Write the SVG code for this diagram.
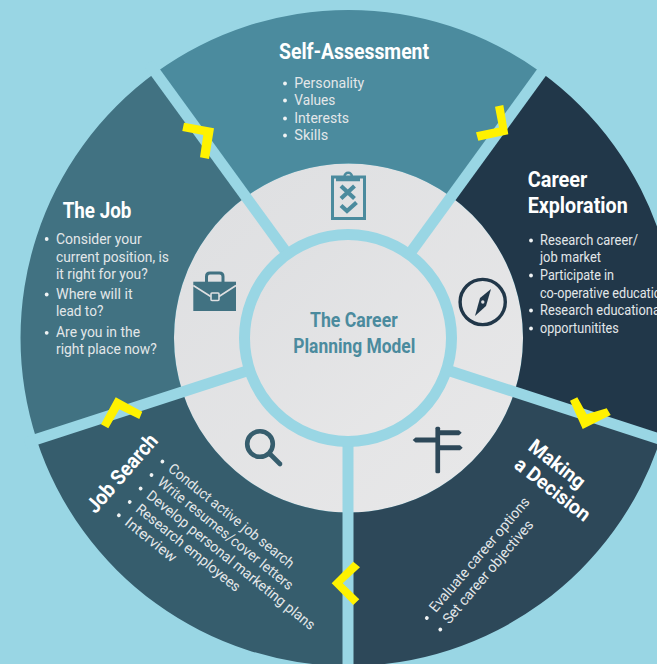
<svg xmlns="http://www.w3.org/2000/svg" width="657" height="664" viewBox="0 0 657 664">
<defs>
<linearGradient id="hubfill" x1="0.15" y1="0.1" x2="0.85" y2="0.9"><stop offset="0" stop-color="#dfe0e2"/><stop offset="1" stop-color="#e7e7e8"/></linearGradient>
</defs>
<style>
text{font-family:Roboto,"Liberation Sans",sans-serif}
.t{font-weight:700;fill:#fff;font-size:22px}
.b{font-weight:400;fill:#e3e7e9;font-size:14.5px}
.d{fill:#f0f3f4}
.c{font-weight:700;fill:#4b8b9e;font-size:19.5px}
.s{fill:none;stroke:#99d6e4;stroke-width:11}
.y{fill:#fff200}
</style>
<rect width="657" height="664" fill="#99d6e4"/>
<circle id="hub-disc" cx="348.5" cy="338" r="174.5" fill="url(#hubfill)"/>

<g id="self-assessment">
<path d="M245.9 196.8L155.7 72.6A328 328 0 0 1 541.3 72.6L451.1 196.8A174.5 174.5 0 0 0 245.9 196.8Z" fill="#4b8b9e"/>
<text class="t" x="279" y="59" textLength="150" lengthAdjust="spacingAndGlyphs">Self-Assessment</text>
<circle class="d" cx="285" cy="83.5" r="1.9"/><text class="b" x="294.3" y="88" textLength="70" lengthAdjust="spacingAndGlyphs">Personality</text>
<circle class="d" cx="285" cy="100.5" r="1.9"/><text class="b" x="294.3" y="105" textLength="41" lengthAdjust="spacingAndGlyphs">Values</text>
<circle class="d" cx="285" cy="118.5" r="1.9"/><text class="b" x="294.3" y="123" textLength="54.7" lengthAdjust="spacingAndGlyphs">Interests</text>
<circle class="d" cx="285" cy="135.5" r="1.9"/><text class="b" x="294.3" y="140" textLength="34" lengthAdjust="spacingAndGlyphs">Skills</text>
<g fill="none" stroke="#4b8b9e">
<rect x="332.5" y="177" width="32" height="41.5" stroke-width="3"/>
<path d="M336 179.5H360" stroke-width="3.5"/>
<path d="M344.5 176.5a3.7 3.7 0 0 1 7.4 0" stroke-width="2.5"/>
<path d="M341 186l13.5 12.5M354.5 186l-13.5 12.5" stroke-width="4.2"/>
<path d="M341 205.5l6 5.5l9.5-8.5" stroke-width="4.2"/>
</g>
</g>

<g id="career-exploration">
<path d="M451.1 196.8L541.3 72.6A328 328 0 0 1 660.4 439.4L514.5 391.9A174.5 174.5 0 0 0 451.1 196.8Z" fill="#213749"/>
<text class="t" x="527.7" y="187" textLength="59.7" lengthAdjust="spacingAndGlyphs">Career</text>
<text class="t" x="527.7" y="213" textLength="100" lengthAdjust="spacingAndGlyphs">Exploration</text>
<circle class="d" cx="531" cy="240.5" r="1.9"/><text class="b" x="540" y="245" textLength="98" lengthAdjust="spacingAndGlyphs">Research career/</text>
<text class="b" x="540" y="262" textLength="61" lengthAdjust="spacingAndGlyphs">job market</text>
<circle class="d" cx="531" cy="275.5" r="1.9"/><text class="b" x="540" y="280" textLength="74" lengthAdjust="spacingAndGlyphs">Participate in</text>
<text class="b" x="540" y="298" textLength="128" lengthAdjust="spacingAndGlyphs">co-operative education</text>
<circle class="d" cx="531" cy="310.5" r="1.9"/><text class="b" x="540" y="315" textLength="123" lengthAdjust="spacingAndGlyphs">Research educational</text>
<circle class="d" cx="531" cy="328.5" r="1.9"/><text class="b" x="540" y="333" textLength="78.7" lengthAdjust="spacingAndGlyphs">opportunitites</text>
<circle cx="482.7" cy="302" r="22.6" fill="none" stroke="#213749" stroke-width="3.4"/>
<path d="M491 289L486 306L475 316L480 298Z" fill="#213749"/>
<circle cx="482.8" cy="302" r="1.7" fill="#dfe0e2"/>
</g>

<g id="making-a-decision">
<path d="M514.5 391.9L660.4 439.4A328 328 0 0 1 348.5 666L348.5 512.5A174.5 174.5 0 0 0 514.5 391.9Z" fill="#2d4859"/>
<g transform="translate(527,449) rotate(38)">
<text class="t" style="font-size:20px" x="0" y="0" textLength="66" lengthAdjust="spacingAndGlyphs">Making</text>
</g>
<g transform="translate(513,467) rotate(38)">
<text class="t" style="font-size:20px" x="0" y="0" textLength="90" lengthAdjust="spacingAndGlyphs">a Decision</text>
</g>
<g transform="translate(435.7,613.3) rotate(-49.5)">
<circle class="d" cx="-9.3" cy="-3.7" r="1.9"/><text class="b" x="0" y="0" textLength="146" lengthAdjust="spacingAndGlyphs">Evaluate career options</text>
<circle class="d" cx="-9.3" cy="14" r="1.9"/><text class="b" x="0" y="17.7" textLength="131" lengthAdjust="spacingAndGlyphs">Set career objectives</text>
</g>
<g fill="#2d4859">
<rect x="435.4" y="426.7" width="4.7" height="46.6" rx="1.5"/>
<path d="M437 430.2H459L461.7 432.7L459 435.2H437Z"/>
<path d="M438 437.6H415.5L412.7 440L415.5 442.4H438Z"/>
<path d="M437 445.2H460L462.7 447.7L460 450.2H437Z"/>
</g>
</g>

<g id="job-search">
<path d="M348.5 512.5L348.5 666A328 328 0 0 1 36.6 439.4L182.5 391.9A174.5 174.5 0 0 0 348.5 512.5Z" fill="#365d6d"/>
<g transform="translate(95.5,514.5) rotate(-49)">
<text class="t" style="font-size:21px" x="0" y="0" textLength="97" lengthAdjust="spacingAndGlyphs">Job Search</text>
</g>
<g transform="translate(167.3,470.3) rotate(39)">
<circle class="d" cx="-9.3" cy="-3.7" r="1.9"/><text class="b" x="0" y="0" textLength="157" lengthAdjust="spacingAndGlyphs">Conduct active job search</text>
<circle class="d" cx="-9.3" cy="13.6" r="1.9"/><text class="b" x="0" y="17.3" textLength="170" lengthAdjust="spacingAndGlyphs">Write resumes/cover letters</text>
<circle class="d" cx="-9.3" cy="30.9" r="1.9"/><text class="b" x="0" y="34.6" textLength="212" lengthAdjust="spacingAndGlyphs">Develop personal marketing plans</text>
<circle class="d" cx="-9.3" cy="48.2" r="1.9"/><text class="b" x="0" y="51.9" textLength="130" lengthAdjust="spacingAndGlyphs">Research employees</text>
<circle class="d" cx="-9.3" cy="65.5" r="1.9"/><text class="b" x="0" y="69.2" textLength="62" lengthAdjust="spacingAndGlyphs">Interview</text>
</g>
<circle cx="260" cy="444" r="12.8" fill="none" stroke="#365d6d" stroke-width="4.6"/>
<path d="M270.5 454.5L280 464" fill="none" stroke="#365d6d" stroke-width="4.6" stroke-linecap="round"/>
</g>

<g id="the-job">
<path d="M182.5 391.9L36.6 439.4A328 328 0 0 1 155.7 72.6L245.9 196.8A174.5 174.5 0 0 0 182.5 391.9Z" fill="#417282"/>
<text class="t" x="62.7" y="218" textLength="68.6" lengthAdjust="spacingAndGlyphs">The Job</text>
<circle class="d" cx="46.7" cy="239" r="1.9"/><text class="b" x="56" y="243.5" textLength="85.7" lengthAdjust="spacingAndGlyphs">Consider your</text>
<text class="b" x="56" y="261.5" textLength="113" lengthAdjust="spacingAndGlyphs">current position, is</text>
<text class="b" x="56" y="278.5" textLength="91.7" lengthAdjust="spacingAndGlyphs">it right for you?</text>
<circle class="d" cx="46.7" cy="294.5" r="1.9"/><text class="b" x="56" y="299" textLength="76.7" lengthAdjust="spacingAndGlyphs">Where will it</text>
<text class="b" x="56" y="316" textLength="47.3" lengthAdjust="spacingAndGlyphs">lead to?</text>
<circle class="d" cx="46.7" cy="332.8" r="1.9"/><text class="b" x="56" y="337.3" textLength="84" lengthAdjust="spacingAndGlyphs">Are you in the</text>
<text class="b" x="56" y="354.3" textLength="100.7" lengthAdjust="spacingAndGlyphs">right place now?</text>
<path d="M206.5 282v-5.5q0-3.5 3.5-3.5h9.5q3.5 0 3.5 3.5v5.5" fill="none" stroke="#417282" stroke-width="3"/>
<rect x="193.3" y="281.7" width="42.7" height="29.3" fill="#417282"/>
<path d="M193.3 285.5L210.7 296.5M236 285.5L219 296.5" stroke="#dfe0e2" stroke-width="1.6" fill="none"/>
<rect x="211" y="293" width="8" height="7.5" rx="1" fill="#417282" stroke="#dfe0e2" stroke-width="1.6"/>
</g>

<g id="connectors">
<g class="s">
<path d="M348.5 338L148.6 63"/>
<path d="M348.5 338L548.4 63"/>
<path d="M348.5 338L671.9 443"/>
<path d="M348.5 338L25.1 443"/>
<path d="M348 338V670"/>
</g>
<g class="y">
<polygon points="184,122.7 214,128.3 209,159 200,157.3 203.3,135 182.3,131"/>
<polygon points="503.3,105 508.3,134.3 478.3,140.7 476,132.3 499,127.5 495,106.7"/>
<polygon points="570,400.7 577.3,397.3 586.7,414.3 606.7,408.3 610.7,415 582.7,429"/>
<polygon points="331.7,583.3 353.3,561.7 360,567.3 342.7,583.3 359.3,599.3 353.3,605"/>
<polygon points="115.7,397.3 142.3,411.7 139.3,419 119.3,409.3 108.3,428.3 101,424.3"/>
</g>
</g>

<g id="center">
<circle cx="348" cy="338" r="103.5" fill="url(#hubfill)" stroke="#99d6e4" stroke-width="11"/>
<text class="c" x="310" y="326.7" textLength="87.7" lengthAdjust="spacingAndGlyphs">The Career</text>
<text class="c" x="293.3" y="353.3" textLength="122" lengthAdjust="spacingAndGlyphs">Planning Model</text>
</g>
</svg>
